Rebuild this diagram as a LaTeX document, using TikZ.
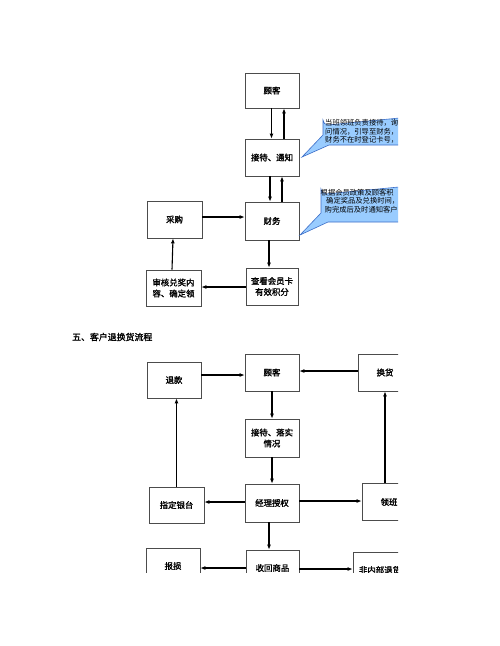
\documentclass[tikz,border=0pt]{standalone}
\usepackage{fontspec}
\newfontfamily\cjk{Noto Sans CJK SC}[AutoFakeBold=1.6]
\usetikzlibrary{arrows.meta}
\definecolor{callfill}{RGB}{153,204,255}
\definecolor{calldraw}{RGB}{60,110,200}
\tikzset{
  bx/.style={draw=black!70, line width=0.7pt, minimum width=54pt, minimum height=37pt, inner sep=0pt, align=center, font=\cjk\bfseries\fontsize{8.4}{11}\selectfont},
  arr/.style={line width=1.1pt, -{Latex[length=5pt,width=4pt]}},
  callout/.style={fill=callfill, draw=calldraw, line width=0.6pt},
  ctext/.style={anchor=west, inner sep=0pt, font=\cjk\fontsize{7.3}{8.5}\selectfont},
  ttl/.style={anchor=west, inner sep=0pt, font=\cjk\bfseries\fontsize{8.9}{11}\selectfont}
}
\begin{document}
\begin{tikzpicture}[x=1pt,y=-1pt]
\useasboundingbox (0,0) rectangle (500,646);
\fill[white] (0,0) rectangle (500,646);
\begin{scope}
\clip (0,0) rectangle (398,572);
% ---------- top flow ----------
\node[bx, minimum height=35pt] (gk1) at (272,90.5) {顾客};
\node[bx] (jd) at (272,157.5) {接待、通知};
\node[bx, minimum height=38pt] (cw) at (272,221) {财务};
\node[bx, minimum width=55pt] (cg) at (174.5,219.5) {采购};
\node[bx, minimum width=52pt] (ck) at (272,286.5) {查看会员卡\\有效积分};
\node[bx, minimum width=55pt, minimum height=36pt] (sh) at (173.5,288) {审核兑奖内\\容、确定领};

\draw[arr] ([xshift=-0.5pt]gk1.south) -- ([xshift=-0.5pt]jd.north);
\draw[arr] ([xshift=12pt]jd.north) -- ([xshift=12pt]gk1.south);
\draw[arr] ([xshift=-2pt]jd.south) -- ([xshift=-2pt]cw.north);
\draw[arr] ([xshift=10pt]cw.north) -- ([xshift=10pt]jd.south);
\draw[arr] (cg.east |- 0,217) -- (cw.west |- 0,217);
\draw[arr] ([xshift=-3pt]cw.south) -- ([xshift=-3pt]ck.north);
\draw[arr] (ck.west |- 0,287) -- (sh.east |- 0,287);
\draw[arr] ([xshift=-1.5pt]sh.north) -- ([xshift=-1.5pt]cg.south);

% callouts
\draw[callout] (302,157) -- (323,135) -- (323,120) arc[start angle=180,end angle=90,radius=5] -- (430,115) -- (430,145) -- (329,145) -- cycle;
\node[ctext] (c1a) at (325,123) {当班领班负责接待，询};
\node[ctext] (c1b) at (325,131.5) {问情况，引导至财务，};
\node[ctext] (c1c) at (325,140) {财务不在时登记卡号，};

\draw[callout] (300,235) -- (321,213) -- (321,189) arc[start angle=180,end angle=90,radius=5] -- (430,184) -- (430,222) -- (328,222) -- cycle;
\node[ctext] (c2a) at (320.5,192.5) {根据会员政策及顾客积};
\node[ctext] (c2b) at (326,201) {确定奖品及兑换时间，};
\node[ctext] (c2c) at (324.5,209.5) {购完成后及时通知客户};

% ---------- bottom flow ----------
\node[ttl] (title) at (72,337) {五、客户退换货流程};
\node[bx, minimum height=36pt] (tk) at (174,380) {退款};
\node[bx] (gk2) at (272,372.5) {顾客};
\node[bx] (hh) at (385,372.5) {换货};
\node[bx, minimum height=38pt] (jl) at (272,438) {接待、落实\\情况};
\node[bx, minimum height=38pt] (jq) at (272,503) {经理授权};
\node[bx, minimum width=55pt, minimum height=36pt] (zd) at (176.5,505) {指定银台};
\node[bx] (lb) at (389,502) {领班};
\node[bx, minimum width=53pt, minimum height=36pt] (sg) at (272.5,568) {收回商品};
\node[bx, minimum height=36pt] (bs) at (173,566) {报损};
\node[bx, minimum height=36pt] (fn) at (380,570) {非内部退货};

\draw[arr] (tk.east |- 0,375) -- (gk2.west |- 0,375);
\draw[arr] (hh.west |- 0,371) -- (gk2.east |- 0,371);
\draw[arr] (gk2.south) -- (jl.north);
\draw[arr] (jl.south) -- (jq.north);
\draw[arr] (jq.west |- 0,502) -- (zd.east |- 0,502);
\draw[arr] (zd.north) -- (zd.north |- tk.south);
\draw[arr] (jq.east |- 0,501) -- (lb.west |- 0,501);
\draw[arr] (lb.north -| hh.south) -- (hh.south);
\draw[arr] ([xshift=-3pt]jq.south) -- ([xshift=-3pt]jq.south |- sg.north);
\draw[arr] (sg.west |- 0,568) -- (bs.east |- 0,568);
\draw[arr] (sg.east |- 0,569) -- (fn.west |- 0,569);
\end{scope}
\end{tikzpicture}
\end{document}
